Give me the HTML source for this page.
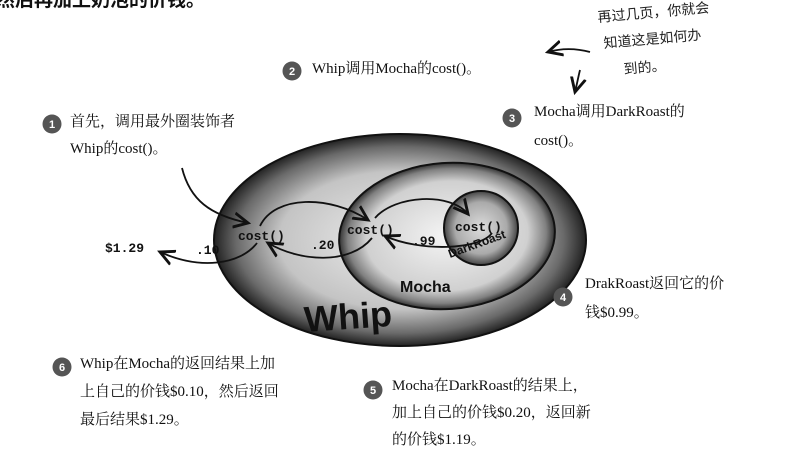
<!DOCTYPE html>
<html><head><meta charset="utf-8">
<style>
html,body{margin:0;padding:0;background:#fff;width:799px;height:455px;overflow:hidden}
svg{display:block}
.t{font-family:"Liberation Serif","Noto Serif CJK SC",serif;font-size:15px;fill:#111}
.m{font-family:"Liberation Mono","DejaVu Sans Mono",monospace;font-weight:bold;font-size:13px;fill:#111}
.h{font-family:"Liberation Sans","WenQuanYi Zen Hei",sans-serif;font-size:14px;fill:#222}
.n{font-family:"Liberation Sans",sans-serif;font-weight:bold;font-size:11px;fill:#fff}
</style></head><body>
<svg width="799" height="455" viewBox="0 0 799 455">
<defs>
<radialGradient id="gW" cx="50%" cy="50%" r="50%">
<stop offset="0" stop-color="#eee"/><stop offset="0.65" stop-color="#c4c4c4"/><stop offset="0.88" stop-color="#6a6a6a"/><stop offset="1" stop-color="#222"/>
</radialGradient>
<radialGradient id="gM" cx="50%" cy="50%" r="50%">
<stop offset="0" stop-color="#f4f4f4"/><stop offset="0.75" stop-color="#d0d0d0"/><stop offset="0.92" stop-color="#808080"/><stop offset="1" stop-color="#333"/>
</radialGradient>
<radialGradient id="gD" cx="50%" cy="50%" r="50%">
<stop offset="0" stop-color="#ddd"/><stop offset="0.7" stop-color="#aaa"/><stop offset="1" stop-color="#444"/>
</radialGradient>
<marker id="ar" markerWidth="10" markerHeight="10" refX="8" refY="5" orient="auto"><path d="M0,1 L8,5 L0,9" fill="none" stroke="#111" stroke-width="1.6"/></marker>
</defs>
<text x="-4" y="6" style="font-family:'Liberation Sans','Noto Sans CJK SC',sans-serif;font-weight:bold;font-size:19px;fill:#111">然后再加上奶泡的价钱。</text>

<ellipse cx="400" cy="240" rx="186" ry="106" fill="url(#gW)" stroke="#111" stroke-width="2"/>
<ellipse cx="447" cy="236" rx="108" ry="73" transform="rotate(-4 447 236)" fill="url(#gM)" stroke="#111" stroke-width="2"/>
<circle cx="481" cy="228" r="37" fill="url(#gD)" stroke="#111" stroke-width="2"/>

<g fill="none" stroke="#111" stroke-width="1.8">
<path d="M182,168 C190,200 210,215 248,223" marker-end="url(#ar)"/>
<path d="M260,226 C275,195 330,195 368,220" marker-end="url(#ar)"/>
<path d="M375,218 C395,195 450,192 468,214" marker-end="url(#ar)"/>
<path d="M492,233 C480,250 420,252 385,236" marker-end="url(#ar)"/>
<path d="M372,238 C350,265 300,262 268,243" marker-end="url(#ar)"/>
<path d="M257,243 C240,265 200,270 160,252" marker-end="url(#ar)"/>
<path d="M590,52 C575,48 562,48 548,52" marker-end="url(#ar)"/>
<path d="M580,70 C578,78 577,84 575,92" marker-end="url(#ar)"/>
</g>

<text x="105" y="252" class="m">$1.29</text>
<text x="196" y="254" class="m">.10</text>
<text x="238" y="240" class="m">cost()</text>
<text x="311" y="249" class="m">.20</text>
<text x="347" y="234" class="m">cost()</text>
<text x="412" y="245" class="m">.99</text>
<text x="455" y="231" class="m">cost()</text>
<text x="450" y="258" transform="rotate(-20 450 258)" style="font-family:'Liberation Sans',sans-serif;font-weight:bold;font-size:12px;fill:#111">DarkRoast</text>
<text x="400" y="292" style="font-family:'Liberation Sans',sans-serif;font-weight:bold;font-size:16px;fill:#111">Mocha</text>
<text x="305" y="332" transform="rotate(-4 305 332)" style="font-family:'Liberation Sans',sans-serif;font-weight:bold;font-size:36px;fill:#111">Whip</text>

<g>
<circle cx="52" cy="124" r="9.5" fill="#555"/><text x="52" y="128" text-anchor="middle" class="n">1</text>
<text x="70" y="126" class="t">首先，调用最外圈装饰者</text>
<text x="70" y="153" class="t">Whip的cost()。</text></g>
<g>
<circle cx="292" cy="71" r="9.5" fill="#555"/><text x="292" y="75" text-anchor="middle" class="n">2</text>
<text x="312" y="73" class="t">Whip调用Mocha的cost()。</text></g>
<g>
<circle cx="512" cy="118" r="9.5" fill="#555"/><text x="512" y="122" text-anchor="middle" class="n">3</text>
<text x="534" y="116" class="t">Mocha调用DarkRoast的</text>
<text x="534" y="145" class="t">cost()。</text></g>
<g>
<circle cx="563" cy="297" r="9.5" fill="#555"/><text x="563" y="301" text-anchor="middle" class="n">4</text>
<text x="585" y="288" class="t">DrakRoast返回它的价</text>
<text x="585" y="317" class="t">钱$0.99。</text></g>
<g>
<circle cx="373" cy="390" r="9.5" fill="#555"/><text x="373" y="394" text-anchor="middle" class="n">5</text>
<text x="392" y="390" class="t">Mocha在DarkRoast的结果上，</text>
<text x="392" y="417" class="t">加上自己的价钱$0.20，返回新</text>
<text x="392" y="444" class="t">的价钱$1.19。</text></g>
<g>
<circle cx="62" cy="367" r="9.5" fill="#555"/><text x="62" y="371" text-anchor="middle" class="n">6</text>
<text x="80" y="368" class="t">Whip在Mocha的返回结果上加</text>
<text x="80" y="396" class="t">上自己的价钱$0.10，然后返回</text>
<text x="80" y="424" class="t">最后结果$1.29。</text></g>

<g>
<text x="598" y="22" transform="rotate(-5 598 22)" class="h">再过几页，你就会</text>
<text x="604" y="48" transform="rotate(-5 604 48)" class="h">知道这是如何办</text>
<text x="624" y="74" transform="rotate(-5 624 74)" class="h">到的。</text></g>
</svg>
</body></html>
